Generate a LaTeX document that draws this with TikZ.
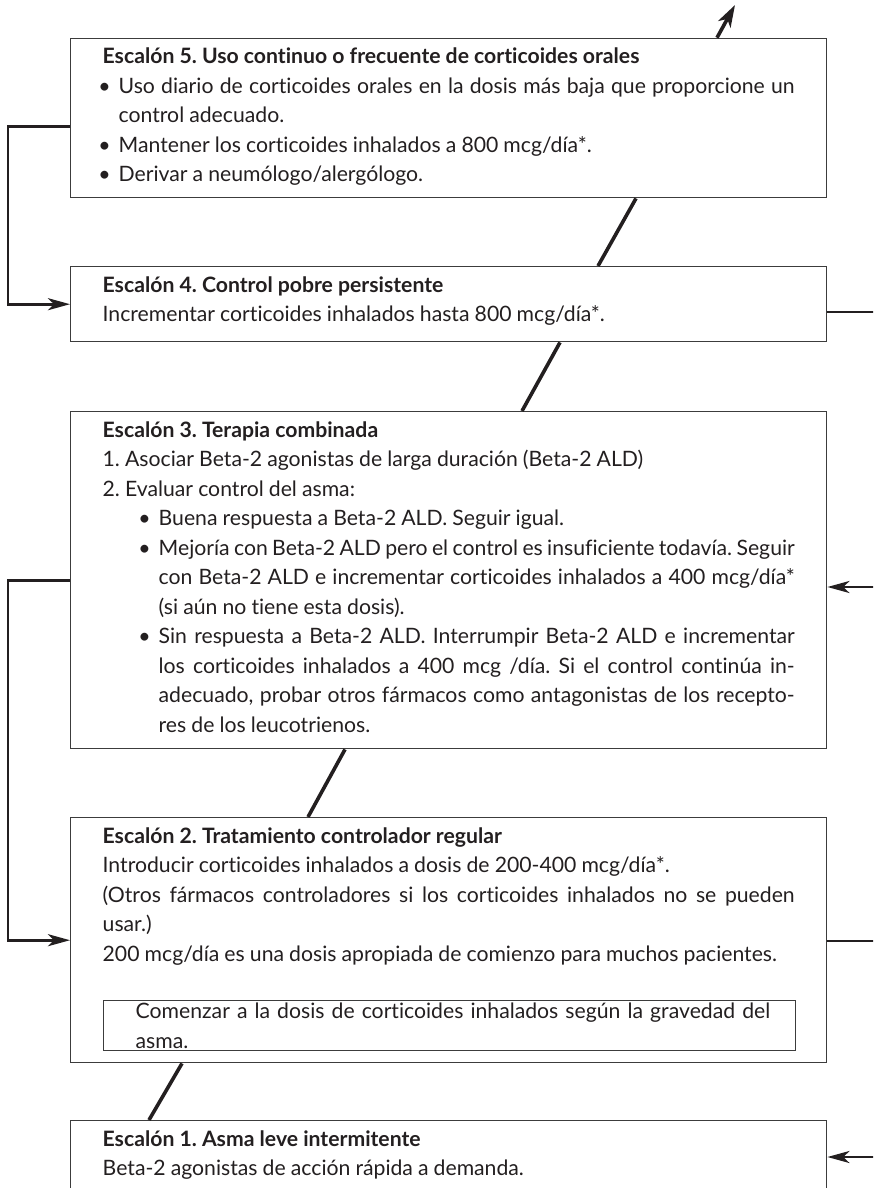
\documentclass[tikz,border=0pt]{standalone}
\usepackage{fontspec}
\setmainfont{Lato}[Ligatures=NoCommon]
\usetikzlibrary{arrows.meta,calc}

\definecolor{tinta}{HTML}{231F20}
\definecolor{marco}{HTML}{3C3C3C}

\newcommand{\cuerpo}{\fontsize{10.6}{14.75}\selectfont\frenchspacing\spaceskip=0.24em plus 0.12em minus 0.07em\relax}
\newcommand{\vineta}[1]{\par\noindent\hangindent=#1\hangafter=1\hbox to #1{\hss\textbullet\hspace{4pt}}\ignorespaces}

\tikzset{
  escalon/.style={draw=marco, line width=0.7pt, anchor=north west, text width=346pt,
    inner xsep=16pt, inner ysep=0pt, text height=12.75pt, align=justify, font=\cuerpo, text=tinta},
  nota/.style={draw=marco, line width=0.7pt, anchor=north west, text width=314pt,
    inner xsep=16pt, inner ysep=0pt, text height=9pt, text depth=16pt, align=left, font=\cuerpo, text=tinta},
  subida/.style={line width=1.8pt, tinta},
  tramo/.style={line width=1.3pt, tinta},
  rama/.style={line width=1.3pt, tinta, -{Stealth[length=11pt,width=6pt,inset=3pt]}},
}

\begin{document}
\begin{tikzpicture}[x=0.5pt, y=-0.5pt]
    \useasboundingbox (0,0) rectangle (873,1188);
    \clip (0,0) rectangle (873,1188);

    % Steps, top to bottom
    \node[escalon, text depth=66.9pt] (s5) at (70,37.7) {\textbf{Escalón 5. Uso continuo o frecuente de corticoides orales}\par
      \vineta{8pt}Uso diario de corticoides orales en la dosis más baja que proporcione un\linebreak control adecuado.\par
      \vineta{8pt}Mantener los corticoides inhalados a 800 mcg/día*.\par
      \vineta{8pt}Derivar a neumólogo/alergólogo.\par};
    \node[escalon, text depth=24.75pt] (s4) at (70,266) {\textbf{Escalón 4. Control pobre persistente}\par
      Incrementar corticoides inhalados hasta 800 mcg/día*.\par};
    \node[escalon, text depth=155.75pt] (s3) at (70,411) {\textbf{Escalón 3. Terapia combinada}\par
      1. Asociar Beta-2 agonistas de larga duración (Beta-2 ALD)\par
      2. Evaluar control del asma:\par
      \vineta{28pt}Buena respuesta a Beta-2 ALD. Seguir igual.\par
      \vineta{28pt}Mejoría con Beta-2 ALD pero el control es insuficiente todavía. Seguir\linebreak con Beta-2 ALD e incrementar corticoides inhalados a 400 mcg/día*\linebreak (si aún no tiene esta dosis).\par
      \vineta{28pt}Sin respuesta a Beta-2 ALD. Interrumpir Beta-2 ALD e incrementar\linebreak los corticoides inhalados a 400 mcg /día. Si el control continúa in-\linebreak adecuado, probar otros fármacos como antagonistas de los recepto-\linebreak res de los leucotrienos.\par};
    \node[escalon, text depth=109.75pt] (s2) at (70,817) {\textbf{Escalón 2. Tratamiento controlador regular}\par
      Introducir corticoides inhalados a dosis de 200-400 mcg/día*.\par
      (Otros fármacos controladores si los corticoides inhalados no se pueden\linebreak usar.)\par
      200 mcg/día es una dosis apropiada de comienzo para muchos pacientes.\par};
    \node[nota] (s2nota) at (103,1000) {\mbox{Comenzar a la dosis de corticoides inhalados según la gravedad del}\\ asma.};
    \node[escalon, text depth=45pt] (s1) at (70,1120) {\textbf{Escalón 1. Asma leve intermitente}\par
      Beta-2 agonistas de acción rápida a demanda.\par};

    % Rising staircase line
    \coordinate (salida) at (735,5);
    \draw[subida, -{Stealth[length=11pt,width=7pt,inset=3pt]}] ($(s5.north west)+(647,0)$) -- (salida);
    \draw[subida] ($(s5.south west)+(566,0)$) -- ($(s4.north west)+(528,0)$);
    \draw[subida] ($(s4.south west)+(490,0)$) -- ($(s3.north west)+(452,0)$);
    \draw[subida] ($(s3.south west)+(275,0)$) -- ($(s2.north west)+(238,0)$);
    \draw[subida] ($(s2.south west)+(112,0)$) -- ($(s1.north west)+(79,0)$);

    % Step-down links on the left
    \draw[rama] ($(s5.north west)+(0,89)$) -- ++(-62,0) |- (s4.west);
    \draw[rama] (s3.west) -- ++(-62,0) |- (s2.west);

    % Links leaving on the right
    \coordinate (fin4) at (880,312);
    \coordinate (ini3) at (880,587);
    \coordinate (fin2) at (880,941);
    \coordinate (ini1) at (880,1157);
    \draw[tramo] (s4.east |- fin4) -- (fin4);
    \draw[rama] (ini3) -- (s3.east |- ini3);
    \draw[tramo] (s2.east |- fin2) -- (fin2);
    \draw[rama] (ini1) -- (s1.east |- ini1);
\end{tikzpicture}
\end{document}
